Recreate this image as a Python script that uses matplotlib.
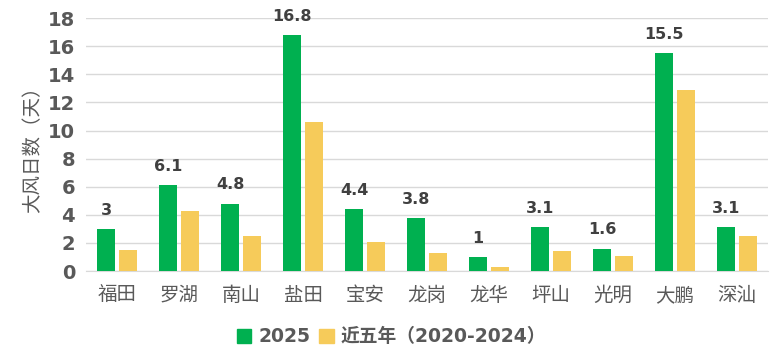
import matplotlib
matplotlib.use("Agg")
import matplotlib.pyplot as plt
import numpy as np
from matplotlib.patches import Patch

categories = ["福田", "罗湖", "南山", "盐田", "宝安", "龙岗", "龙华", "坪山", "光明", "大鹏", "深汕"]
v2025 = [3, 6.1, 4.8, 16.8, 4.4, 3.8, 1, 3.1, 1.6, 15.5, 3.1]
v5yr = [1.5, 4.3, 2.5, 10.6, 2.1, 1.3, 0.3, 1.4, 1.1, 12.9, 2.5]
yticks = [0, 2, 4, 6, 8, 10, 12, 14, 16, 18]

GREEN = "#00B050"
YELLOW = "#F6CB5A"
GRAY = "#595959"
CJK = ["Noto Sans CJK SC", "DejaVu Sans"]

fig = plt.figure(figsize=(7.83, 3.63), dpi=100)
ax = fig.add_axes([0.110, 0.2534, 0.871, 0.6966])

x = np.arange(len(categories))
w = 0.29
off = 0.177
ax.bar(x - off, v2025, width=w, color=GREEN, zorder=3)
ax.bar(x + off, v5yr, width=w, color=YELLOW, zorder=3)

for xi, v in zip(x, v2025):
    ax.annotate(f"{v:g}", (xi - off, v), xytext=(0, 8), textcoords="offset points",
                ha="center", va="bottom", fontsize=11.5, fontweight="bold",
                color="#404040", family="DejaVu Sans")

ax.set_xlim(-0.5, len(categories) - 0.5)
ax.set_ylim(0, 18)
ax.set_yticks(yticks)
ax.set_yticklabels([str(t) for t in yticks], fontsize=14, fontweight="bold",
                   color=GRAY, family="DejaVu Sans")
ax.set_xticks(x)
ax.set_xticklabels(categories, fontsize=14, color=GRAY, family=CJK)
ax.tick_params(axis="both", length=0)
ax.tick_params(axis="x", pad=10)
ax.tick_params(axis="y", pad=8)
ax.grid(axis="y", color="#D9D9D9", linewidth=1, zorder=0)
for s in ["top", "right", "left"]:
    ax.spines[s].set_visible(False)
ax.spines["bottom"].set_color("#D9D9D9")

ax.set_ylabel("大风日数（天）", fontsize=14, color=GRAY, family=CJK, labelpad=3)

handles = [Patch(color=GREEN, label="2025"), Patch(color=YELLOW, label="近五年（2020-2024）")]
leg = fig.legend(handles=handles, loc="center", bbox_to_anchor=(0.5, 0.072), ncol=2,
                 frameon=False, handlelength=0.75, handleheight=0.75, handletextpad=0.4,
                 columnspacing=0.5, prop={"family": ["DejaVu Sans", "Noto Sans CJK SC"],
                                          "weight": "bold", "size": 13.5})
for t in leg.get_texts():
    t.set_color(GRAY)

fig.savefig("out.png", dpi=100)
